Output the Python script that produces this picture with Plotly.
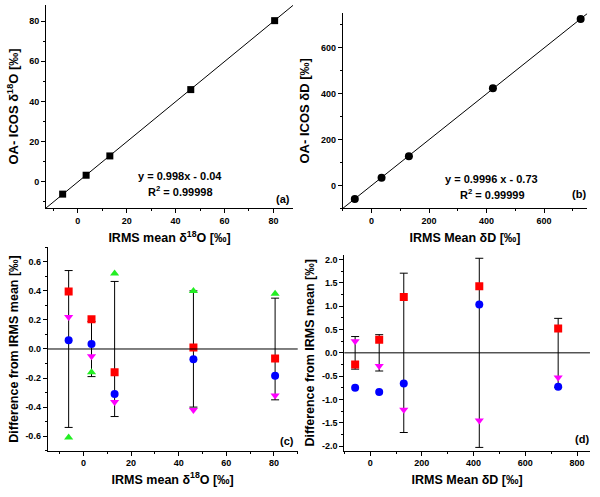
import plotly.graph_objects as go

# ---------------- data ----------------
o18_irms = [-6.2, 3.4, 13.1, 46.2, 80.5]
o18_icos = [-6.1, 3.3, 12.9, 45.9, 80.2]
o18_fit = (0.998, -0.04)

dD_irms = [-58, 35, 130, 422, 727]
dD_icos = [-60, 33, 127, 423, 725]
dD_fit = (0.9996, -0.73)

o18_red = [0.395, 0.205, -0.16, 0.01, -0.065]
o18_blue = [0.06, 0.035, -0.31, -0.07, -0.185]
o18_magenta = [0.22, -0.05, -0.365, -0.42, -0.32]
o18_green = [-0.61, -0.16, 0.52, 0.40, 0.38]
o18_err = [0.54, 0.19, 0.465, 0.40, 0.35]

dD_red = [-0.25, 0.28, 1.2, 1.43, 0.52]
dD_blue = [-0.75, -0.84, -0.66, 1.04, -0.73]
dD_magenta = [0.25, -0.28, -1.22, -1.45, -0.53]
dD_err = [0.35, 0.39, 1.71, 2.03, 0.74]

a_ticks = [0, 20, 40, 60, 80]
b_ticks = [0, 200, 400, 600]
c_yticks = [-0.6, -0.4, -0.2, 0.0, 0.2, 0.4, 0.6]
c_yticktext = ["-0.6", "-0.4", "-0.2", "0.0", "0.2", "0.4", "0.6"]
d_xticks = [0, 200, 400, 600, 800]
d_yticks = [-2.0, -1.5, -1.0, -0.5, 0.0, 0.5, 1.0, 1.5, 2.0]
d_yticktext = ["-2.0", "-1.5", "-1.0", "-0.5", "0.0", "0.5", "1.0", "1.5", "2.0"]

RED, BLUE, MAG, GREEN = "#ff0000", "#0000ff", "#ff00ff", "#22ee22"
FONT = "Liberation Sans, Arial, sans-serif"

fig = go.Figure()

# (a)
xr_a = [-13, 88]
fig.add_trace(go.Scatter(x=xr_a, y=[o18_fit[0] * v + o18_fit[1] for v in xr_a],
                         mode="lines", line=dict(color="black", width=1),
                         xaxis="x", yaxis="y", showlegend=False))
fig.add_trace(go.Scatter(x=o18_irms, y=o18_icos, mode="markers",
                         marker=dict(symbol="square", size=7, color="black"),
                         xaxis="x", yaxis="y", showlegend=False))
# (b)
xr_b = [-100, 750]
fig.add_trace(go.Scatter(x=xr_b, y=[dD_fit[0] * v + dD_fit[1] for v in xr_b],
                         mode="lines", line=dict(color="black", width=1),
                         xaxis="x2", yaxis="y2", showlegend=False))
fig.add_trace(go.Scatter(x=dD_irms, y=dD_icos, mode="markers",
                         marker=dict(symbol="circle", size=8, color="black"),
                         xaxis="x2", yaxis="y2", showlegend=False))

# (c)
fig.add_trace(go.Scatter(x=o18_irms, y=[0] * len(o18_irms), mode="markers",
                         marker=dict(size=1, opacity=0),
                         error_y=dict(type="data", array=o18_err, color="black",
                                      thickness=1, width=4),
                         xaxis="x3", yaxis="y3", showlegend=False))
for vals, sym, col in [(o18_green, "triangle-up", GREEN), (o18_magenta, "triangle-down", MAG),
                       (o18_blue, "circle", BLUE), (o18_red, "square", RED)]:
    fig.add_trace(go.Scatter(x=o18_irms, y=vals, mode="markers",
                             marker=dict(symbol=sym, size=8, color=col),
                             xaxis="x3", yaxis="y3", showlegend=False))

# (d)
fig.add_trace(go.Scatter(x=dD_irms, y=[0] * len(dD_irms), mode="markers",
                         marker=dict(size=1, opacity=0),
                         error_y=dict(type="data", array=dD_err, color="black",
                                      thickness=1, width=4),
                         xaxis="x4", yaxis="y4", showlegend=False))
for vals, sym, col in [(dD_magenta, "triangle-down", MAG),
                       (dD_blue, "circle", BLUE), (dD_red, "square", RED)]:
    fig.add_trace(go.Scatter(x=dD_irms, y=vals, mode="markers",
                             marker=dict(symbol=sym, size=8, color=col),
                             xaxis="x4", yaxis="y4", showlegend=False))


def ax(domain, rng, anchor, title, tickvals, ticktext=None, minor=None, standoff=5, tsize=12.5):
    d = dict(domain=domain, range=rng, anchor=anchor, showline=True, linecolor="black",
             linewidth=1, mirror=False, showgrid=False, zeroline=False,
             ticks="outside", ticklen=4, tickwidth=1, tickcolor="black",
             tickvals=tickvals, tickfont=dict(family=FONT, size=9, color="black", weight="bold"),
             title=dict(text=title, font=dict(family=FONT, size=tsize, color="black", weight="bold"),
                        standoff=standoff),
             automargin=False)
    if ticktext is not None:
        d["ticktext"] = ticktext
    if minor is not None:
        d["minor"] = dict(ticks="outside", ticklen=2, tickcolor="black", dtick=minor,
                          showgrid=False, tick0=0)
    return d


fig.update_layout(
    width=600, height=497, margin=dict(l=0, r=0, t=0, b=0),
    paper_bgcolor="white", plot_bgcolor="white",
    xaxis=ax([0.0767, 0.4883], [-13, 88], "y", "IRMS mean δ<sup>18</sup>O [‰]", a_ticks, minor=10,
             standoff=8),
    yaxis=ax([0.5815, 0.990], [-13, 88], "x", "OA- ICOS δ<sup>18</sup>O [‰]", a_ticks, minor=10,
             standoff=7, tsize=13),
    xaxis2=ax([0.5712, 0.9788], [-100, 750], "y2", "IRMS Mean δD [‰]", b_ticks, minor=100,
              standoff=8),
    yaxis2=ax([0.5809, 0.9732], [-100, 750], "x2", "OA- ICOS δD [‰]", b_ticks, minor=100,
              standoff=8, tsize=13),
    xaxis3=ax([0.0795, 0.4962], [-15, 90], "y3", "IRMS mean δ<sup>18</sup>O [‰]", a_ticks, minor=10,
              standoff=7),
    yaxis3=ax([0.0932, 0.5024], [-0.7, 0.7], "x3", "Difference from IRMS mean [‰]",
              c_yticks, c_yticktext, minor=0.1, standoff=4),
    xaxis4=ax([0.5738, 0.9833], [-100, 850], "y4", "IRMS Mean δD [‰]", d_xticks, minor=100,
              standoff=7),
    yaxis4=ax([0.0932, 0.4869], [-2.1, 2.1], "x4", "Difference from IRMS mean [‰]",
              d_yticks, d_yticktext, minor=0.25, standoff=4),
)

fig.add_shape(type="line", xref="x3 domain", yref="y3", x0=0, x1=1, y0=0, y1=0,
              line=dict(color="black", width=1))
fig.add_shape(type="line", xref="x4 domain", yref="y4", x0=0, x1=1, y0=0, y1=0,
              line=dict(color="black", width=1))

af = dict(family=FONT, size=11, color="black", weight="bold")
notes = [
    ("y = 0.998x - 0.04", 0.300, 0.6465),
    ("R<sup>2</sup> = 0.99998", 0.300, 0.6163),
    ("(a)", 0.4712, 0.599),
    ("y = 0.9996 x - 0.73", 0.8195, 0.6398),
    ("R<sup>2</sup> = 0.99999", 0.8212, 0.609),
    ("(b)", 0.9655, 0.609),
    ("(c)", 0.4783, 0.1127),
    ("(d)", 0.9695, 0.1167),
]
for t, x, y in notes:
    fig.add_annotation(text=t, x=x, y=y, xref="paper", yref="paper", showarrow=False,
                       xanchor="center", yanchor="middle", font=af)

fig.write_html("out.html", config={"displayModeBar": False},
               post_script="document.body.style.margin='0';document.body.style.overflow='hidden';")
